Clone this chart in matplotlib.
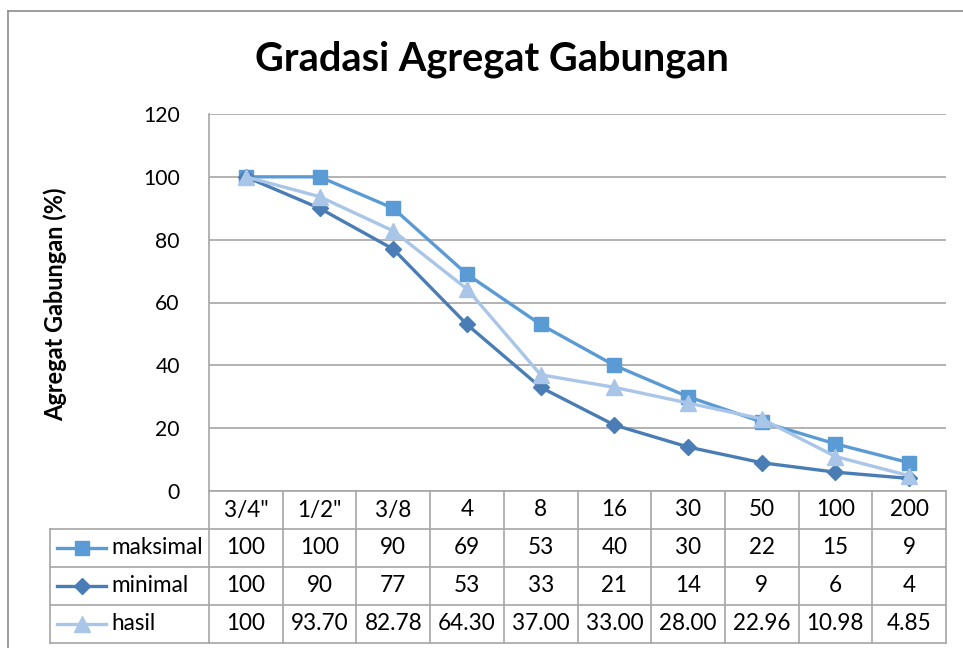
import matplotlib.pyplot as plt
from matplotlib.lines import Line2D

plt.rcParams['font.family'] = ['Lato', 'DejaVu Sans']

saringan = ['3/4"', '1/2"', '3/8', '4', '8', '16', '30', '50', '100', '200']
maksimal = [100, 100, 90, 69, 53, 40, 30, 22, 15, 9]
minimal = [100, 90, 77, 53, 33, 21, 14, 9, 6, 4]
hasil = [100, 93.70, 82.78, 64.30, 37.00, 33.00, 28.00, 22.96, 10.98, 4.85]
teks_maks = ['100', '100', '90', '69', '53', '40', '30', '22', '15', '9']
teks_min = ['100', '90', '77', '53', '33', '21', '14', '9', '6', '4']
teks_hasil = ['100', '93.70', '82.78', '64.30', '37.00', '33.00', '28.00', '22.96', '10.98', '4.85']

W, H = 963, 648
fig = plt.figure(figsize=(W / 100, H / 100), dpi=100)
renderer = fig.canvas.get_renderer()


def lebar_px(txt, size, weight='normal'):
    t = fig.text(0, 0, txt, fontsize=size, fontweight=weight)
    w = t.get_window_extent(renderer).width
    t.remove()
    return w


# font sizes chosen so text widths match the reference
fs = 13.5 * 92 / lebar_px('maksimal', 13.5)
fs_tick = 13.5 * 37 / lebar_px('120', 13.5)
fs_title = 23 * 475 / lebar_px('Gradasi Agregat Gabungan', 23, 'bold')
fs_ylab = 12 * 232 / lebar_px('Agregat Gabungan (%)', 12, 'bold')

# plot area in pixels
x0, x1, ytop, ybot = 209, 946, 114, 491
ax = fig.add_axes([x0 / W, (H - ybot) / H, (x1 - x0) / W, (ybot - ytop) / H])

grid_c = '#A6A6A6'
seri = [
    ('maksimal', maksimal, teks_maks, '#5B9BD5', 's', 10),
    ('minimal', minimal, teks_min, '#4A7DB5', 'D', 8),
    ('hasil', hasil, teks_hasil, '#A9C5E8', '^', 11),
]

xs = list(range(len(saringan)))
for nama, val, _, warna, mk, ms in seri:
    ax.plot(xs, val, color=warna, lw=2.4, marker=mk, ms=ms, clip_on=False, zorder=3)

ax.set_xlim(-0.5, len(saringan) - 0.5)
ax.set_ylim(0, 120)
ax.set_yticks(range(0, 121, 20))
ax.tick_params(axis='y', length=0, pad=21, labelsize=fs_tick, colors='#000000')
ax.set_xticks([])
ax.grid(axis='y', color=grid_c, lw=1.2)
ax.set_axisbelow(True)
for s in ['top', 'right', 'bottom']:
    ax.spines[s].set_visible(False)
ax.spines['left'].set_color(grid_c)
ax.spines['left'].set_linewidth(1.2)

fig.text(55 / W, 1 - 304 / H, 'Agregat Gabungan (%)', rotation=90, ha='center',
         va='center', fontsize=fs_ylab, fontweight='bold')

# data table below the plot
tr = ax.get_xaxis_transform()
plot_h = ybot - ytop
row_h = 38 / plot_h
px = (x1 - x0) / len(saringan)
leg_left = -0.5 - (x0 - 50) / px
right = len(saringan) - 0.5
kw = dict(color=grid_c, lw=1.2, transform=tr, clip_on=False)

ax.add_line(Line2D([-0.5, right], [0, 0], **kw))
for r in range(1, 5):
    ax.add_line(Line2D([leg_left, right], [-r * row_h, -r * row_h], **kw))
for i in range(len(saringan) + 1):
    ax.add_line(Line2D([i - 0.5, i - 0.5], [0, -4 * row_h], **kw))
ax.add_line(Line2D([leg_left, leg_left], [-row_h, -4 * row_h], **kw))

for i, lab in enumerate(saringan):
    ax.text(i, -0.5 * row_h, lab, transform=tr, ha='center', va='center', fontsize=fs)

for r, (nama, val, teks, warna, mk, ms) in enumerate(seri):
    yc = -(r + 1.5) * row_h
    xa = leg_left + 7 / px
    xb = leg_left + 56 / px
    ax.add_line(Line2D([xa, xb], [yc, yc], color=warna, lw=2.4,
                       transform=tr, clip_on=False))
    ax.add_line(Line2D([(xa + xb) / 2], [yc], color=warna, marker=mk, ms=ms,
                       transform=tr, clip_on=False))
    ax.text(leg_left + 61 / px, yc, nama, transform=tr, ha='left', va='center', fontsize=fs)
    for i, t in enumerate(teks):
        ax.text(i, yc, t, transform=tr, ha='center', va='center', fontsize=fs)

fig.text(492 / W, 1 - 59 / H, 'Gradasi Agregat Gabungan', ha='center', va='center',
         fontsize=fs_title, fontweight='bold')

# chart border
fig.add_artist(Line2D([8 / W, 8 / W], [0, 1 - 11 / H], color='#8C8C8C', lw=1.2,
                      transform=fig.transFigure))
fig.add_artist(Line2D([8 / W, 1], [1 - 11 / H, 1 - 11 / H], color='#8C8C8C', lw=1.2,
                      transform=fig.transFigure))

fig.savefig('out.png', dpi=100)
